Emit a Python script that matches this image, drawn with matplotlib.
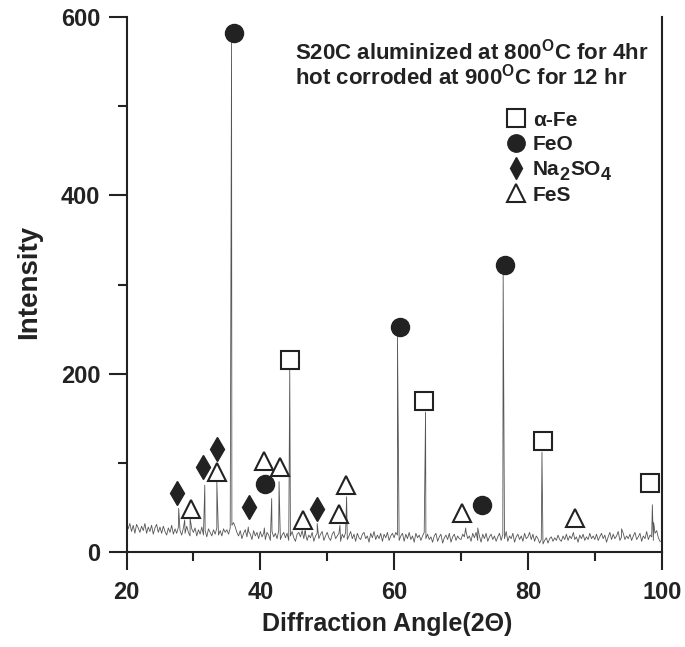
import matplotlib
matplotlib.use("Agg")
import matplotlib.pyplot as plt
import numpy as np

# baseline noise, 0.25 deg steps from 20 to 100
base_start = 20.0
base_step = 0.25
baseline = [
    34, 26, 32, 23, 30, 21, 31, 27, 22, 29, 24, 32, 21, 28, 23, 30, 20, 27, 31, 22,
    28, 21, 29, 23, 19, 27, 22, 30, 20, 26, 21, 28, 24, 19, 27, 21, 29, 22, 18, 26,
    22, 27, 18, 25, 20, 28, 19, 24, 17, 26, 22, 18, 25, 20, 27, 19, 24, 18, 26, 22,
    25, 20, 27, 30, 33, 28, 22, 18, 24, 15, 21, 25, 17, 23, 20, 14, 24, 18, 22, 15,
    23, 17, 21, 14, 22, 19, 13, 23, 17, 21, 15, 24, 14, 19, 22, 16, 21, 13, 18, 23,
    16, 12, 20, 22, 17, 24, 15, 21, 13, 19, 16, 22, 12, 18, 21, 15, 20, 23, 13, 18,
    22, 16, 13, 20, 23, 15, 18, 21, 12, 20, 16, 22, 14, 18, 23, 15, 20, 12, 21, 16,
    14, 20, 22, 15, 18, 11, 21, 16, 23, 14, 19, 15, 21, 12, 20, 16, 22, 13, 18, 21,
    16, 22, 19, 13, 18, 21, 12, 20, 15, 22, 14, 18, 11, 21, 16, 19, 13, 18, 22, 15,
    20, 14, 17, 11, 18, 21, 12, 17, 20, 10, 16, 19, 14, 21, 11, 17, 20, 13, 18, 15,
    14, 20, 17, 23, 15, 18, 12, 21, 16, 22, 13, 18, 11, 20, 15, 21, 12, 17, 20, 14,
    18, 12, 17, 21, 13, 20, 15, 23, 12, 18, 15, 21, 11, 17, 20, 14, 18, 12, 21, 15,
    17, 22, 14, 20, 12, 18, 15, 10, 14, 9, 13, 16, 10, 15, 17, 12, 16, 13, 19, 14,
    12, 18, 14, 20, 13, 18, 15, 21, 14, 17, 11, 19, 15, 20, 13, 17, 14, 21, 15, 18,
    14, 20, 13, 17, 21, 15, 19, 11, 17, 22, 14, 20, 15, 18, 23, 13, 17, 21, 14, 18,
    15, 20, 13, 18, 22, 14, 17, 21, 12, 18, 15, 23, 14, 19, 17, 13, 21, 24, 16, 12,
    12,
]

# diffraction peaks: angle, intensity
peak_pos = [27.8, 28.7, 29.5, 31.7, 33.5, 35.7, 38.2, 40.6, 41.7, 42.8, 44.4,
            46.7, 48.5, 51.9, 52.9, 60.5, 64.7, 70.7, 72.5, 76.3, 82.1, 86.8,
            94.0, 98.6, 98.8]
peak_int = [49, 36, 38, 75, 79, 572, 28, 27, 60, 79, 205,
            24, 32, 30, 62, 245, 157, 27, 27, 312, 112, 22,
            26, 53, 33]

# phase markers: angle, intensity
fe_x = [44.4, 64.5, 82.2, 98.2]
fe_y = [215, 169, 124, 77]
feo_x = [36.1, 40.7, 60.9, 73.1, 76.6]
feo_y = [582, 76, 252, 53, 322]
na_x = [27.6, 31.4, 33.5, 38.3, 48.5]
na_y = [66, 95, 115, 50, 48]
fes_x = [29.7, 33.5, 40.6, 43.0, 46.4, 51.8, 52.8, 70.2, 87.1]
fes_y = [48, 90, 102, 95, 36, 43, 75, 44, 38]

# key labels; Na2SO4 is split so its subscripts can stay near full size
legend_labels = ["\u03b1-Fe", "FeO", ["Na", "2", "SO", "4"], "FeS"]
title_lines = ["S20C aluminized at 800$^{\\mathrm{O}}$C for 4hr",
               "hot corroded at 900$^{\\mathrm{O}}$C for 12 hr"]

plt.rcParams["font.family"] = ["Liberation Sans", "DejaVu Sans"]
plt.rcParams["font.weight"] = "bold"
plt.rcParams["mathtext.fontset"] = "custom"
plt.rcParams["mathtext.rm"] = "Liberation Sans:bold"
plt.rcParams["mathtext.it"] = "Liberation Sans:bold"
plt.rcParams["mathtext.bf"] = "Liberation Sans:bold"

ink = "#222222"

base_x = base_start + base_step * np.arange(len(baseline))
x = np.concatenate([base_x, peak_pos])
y = np.concatenate([np.asarray(baseline, dtype=float), peak_int])
order = np.argsort(x, kind="stable")
x = x[order]
y = y[order]

fig = plt.figure(figsize=(6.85, 6.47), dpi=100)
ax = fig.add_axes([0.1847, 0.1468, 0.7813, 0.8269])

ax.plot(x, y, color="#555555", linewidth=0.6)

# marker styles: square, circle, diamond, triangle
styles = [
    dict(marker="s", markerfacecolor="white", markeredgewidth=1.5),
    dict(marker="o", markerfacecolor=ink),
    dict(marker="d", markerfacecolor=ink),
    dict(marker="^", markerfacecolor="white", markeredgewidth=1.5),
]
plot_sizes = [13, 13, 12.5, 13]
legend_sizes = [13, 12.5, 11, 12.5]
ms_kw = dict(linestyle="none", markeredgecolor=ink, clip_on=False)

for (px, py), st, sz in zip([(fe_x, fe_y), (feo_x, feo_y), (na_x, na_y), (fes_x, fes_y)],
                            styles, plot_sizes):
    ax.plot(px, py, markersize=sz, **st, **ms_kw)

ax.set_xlim(20, 100)
ax.set_ylim(0, 600)
ax.set_xticks([20, 40, 60, 80, 100])
ax.set_xticks([30, 50, 70, 90], minor=True)
ax.set_yticks([0, 200, 400, 600])
ax.set_yticks([100, 300, 500], minor=True)
ax.tick_params(which="major", direction="out", length=13, width=1.5, colors=ink,
               labelsize=17)
ax.tick_params(axis="x", which="major", pad=8)
ax.tick_params(axis="y", which="major", pad=6)
ax.tick_params(which="minor", direction="out", length=6.5, width=1.5, colors=ink)
ax.tick_params(axis="y", which="both", right=False)

for side in ["left", "bottom", "right"]:
    ax.spines[side].set_linewidth(1.5)
    ax.spines[side].set_color(ink)
ax.spines["top"].set_visible(False)

ax.set_xlabel("Diffraction Angle(2\u0398)", fontsize=18, fontweight="bold", color=ink)
ax.xaxis.set_label_coords(0.487, -0.112)
ax.set_ylabel("Intensity", fontsize=20, fontweight="bold", color=ink)
ax.yaxis.set_label_coords(-0.158, 0.504)

ax.text(0.315, 0.9215, title_lines[0], transform=ax.transAxes, fontsize=16,
        color=ink, va="baseline")
ax.text(0.315, 0.873, title_lines[1], transform=ax.transAxes, fontsize=16,
        color=ink, va="baseline")

# hand-placed key, as in the original
row_y = [0.811, 0.765, 0.718, 0.671]
key_fs = 15
for label, st, sz, ry in zip(legend_labels, styles, legend_sizes, row_y):
    ax.plot([0.728], [ry], transform=ax.transAxes, markersize=sz, **st, **ms_kw)
    if isinstance(label, str):
        ax.text(0.759, ry, label, transform=ax.transAxes, fontsize=key_fs, color=ink,
                va="center_baseline")
        continue
    prev = ax.text(0.759, ry, label[0], transform=ax.transAxes, fontsize=key_fs,
                   color=ink, va="center_baseline")
    for i, part in enumerate(label[1:]):
        is_sub = i % 2 == 0
        prev = ax.annotate(part, xy=(1, 0), xycoords=prev,
                           xytext=(0.3, -3.5 if is_sub else 3.5), textcoords="offset points",
                           fontsize=13 if is_sub else key_fs, color=ink,
                           va="bottom", ha="left")

fig.savefig("out.png", dpi=100)
